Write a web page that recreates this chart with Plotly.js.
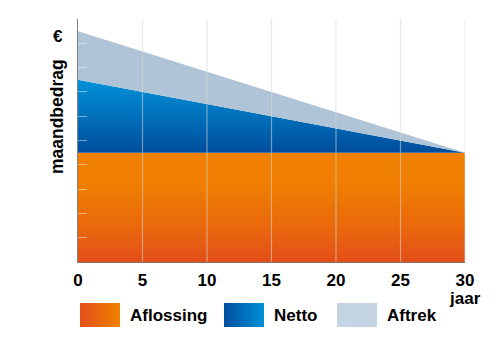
<!DOCTYPE html>
<html>
<head>
<meta charset="utf-8">
<script src="https://cdn.plot.ly/plotly-3.0.1.min.js"></script>
<style>html,body{margin:0;padding:0;background:#fff}#chart{width:500px;height:348px}</style>
</head>
<body>
<div id="chart"></div>
<script>
// ---- data ----
var years = [0, 30];
var aflossing = [4.5, 4.5];   // monthly repayment part
var netto = [3.0, 0.0];       // net interest part
var aftrek = [2.0, 0.0];      // tax deduction part
var xTicks = [0, 5, 10, 15, 20, 25, 30];
var seriesNames = ['Aflossing', 'Netto', 'Aftrek'];

// ---- styles ----
var FONT = 'Liberation Sans, Arial, sans-serif';
var orangeScale = [[0, '#e34f19'], [0.35, '#ea6a0b'], [0.7, '#ef7e01'], [1, '#f08000']];
var blueScale = [[0, '#004d9b'], [0.5, '#0070bb'], [1, '#0092d8']];
var greyFill = '#b0c4d8';

var aflTop = aflossing.slice();
var netTop = aflossing.map(function (v, i) { return v + netto[i]; });

var traces = [
  {x: years, y: aflossing, name: seriesNames[0], stackgroup: 's', mode: 'none',
   fillgradient: {type: 'vertical', colorscale: orangeScale, start: 0, stop: aflTop[0]},
   hoverinfo: 'skip', showlegend: false},
  {x: years, y: netto, name: seriesNames[1], stackgroup: 's', mode: 'none',
   fillgradient: {type: 'vertical', colorscale: blueScale, start: aflTop[0], stop: netTop[0]},
   hoverinfo: 'skip', showlegend: false},
  {x: years, y: aftrek, name: seriesNames[2], stackgroup: 's', mode: 'none',
   fillcolor: greyFill, hoverinfo: 'skip', showlegend: false}
];

// ---- custom legend (swatches on a helper axis in pixel-like units) ----
var legLeft = [80, 224, 337];
var legW = 40;
var legScales = [
  [[0, '#e4501a'], [1, '#f08000']],
  [[0, '#004f9f'], [1, '#0090d8']],
  null
];
var annotations = [];
seriesNames.forEach(function (n, i) {
  var x0 = legLeft[i], x1 = legLeft[i] + legW;
  var t = {x: [x0, x1, x1, x0, x0], y: [0, 0, 1, 1, 0], xaxis: 'x2', yaxis: 'y2',
    mode: 'none', fill: 'toself', hoverinfo: 'skip', showlegend: false};
  if (legScales[i]) {
    t.fillgradient = {type: 'horizontal', colorscale: legScales[i], start: x0, stop: x1};
  } else {
    t.fillcolor = '#c5d4e2';
  }
  traces.push(t);
  annotations.push({xref: 'x2', yref: 'y2', x: x1 + 8, y: 0.5, xanchor: 'left', yanchor: 'middle',
    text: n, showarrow: false, font: {family: FONT, size: 17, color: '#000', weight: 'bold'}});
});

annotations.push({xref: 'x', yref: 'paper', x: 30, y: 0.114, text: 'jaar', showarrow: false,
  xanchor: 'center', yanchor: 'middle', font: {family: FONT, size: 17, color: '#000', weight: 'bold'}});
annotations.push({xref: 'paper', yref: 'paper', x: -0.052, y: 0.943, text: '€', showarrow: false,
  xanchor: 'center', yanchor: 'middle', font: {family: FONT, size: 17, color: '#000', weight: 'bold'}});
annotations.push({xref: 'paper', yref: 'paper', x: -0.054, y: 0.689, text: 'maandbedrag', textangle: -90,
  showarrow: false, xanchor: 'center', yanchor: 'middle', font: {family: FONT, size: 17.5, color: '#000', weight: 'bold'}});

// vertical grid lines drawn above the fills
var shapes = xTicks.filter(function (v) { return v > 0; }).map(function (v) {
  return {type: 'line', xref: 'x', yref: 'y', x0: v, x1: v, y0: 0, y1: 10, layer: 'above',
    line: {color: 'rgba(215,215,215,0.55)', width: 1.2}};
});

var layout = {
  width: 500, height: 348,
  margin: {l: 78, r: 35, t: 19, b: 14, pad: 0},
  paper_bgcolor: '#fff', plot_bgcolor: 'rgba(0,0,0,0)',
  showlegend: false,
  xaxis: {domain: [0, 1], range: [0, 30], tickvals: xTicks, ticks: '', showgrid: false, zeroline: false,
    showline: true, linecolor: 'rgba(60,40,30,0.65)', linewidth: 1.3, layer: 'above traces',
    tickfont: {family: FONT, size: 17, color: '#000', weight: 'bold'}, ticklabelstandoff: 2, fixedrange: true},
  yaxis: {domain: [0.2286, 1], range: [0, 10], dtick: 1, tick0: 0, ticks: 'inside', ticklen: 9,
    tickcolor: 'rgba(255,255,255,0.45)', tickwidth: 1, showticklabels: false, showgrid: false,
    zeroline: false, showline: true, linecolor: 'rgba(60,60,60,0.65)', linewidth: 1.3,
    layer: 'above traces', fixedrange: true},
  xaxis2: {domain: [0, 1], range: [78, 465], visible: false, anchor: 'y2', fixedrange: true},
  yaxis2: {domain: [0.0222, 0.0984], range: [0, 1], visible: false, anchor: 'x2', fixedrange: true},
  annotations: annotations,
  shapes: shapes
};

Plotly.newPlot('chart', traces, layout, {displayModeBar: false, staticPlot: true});
</script>
</body>
</html>
